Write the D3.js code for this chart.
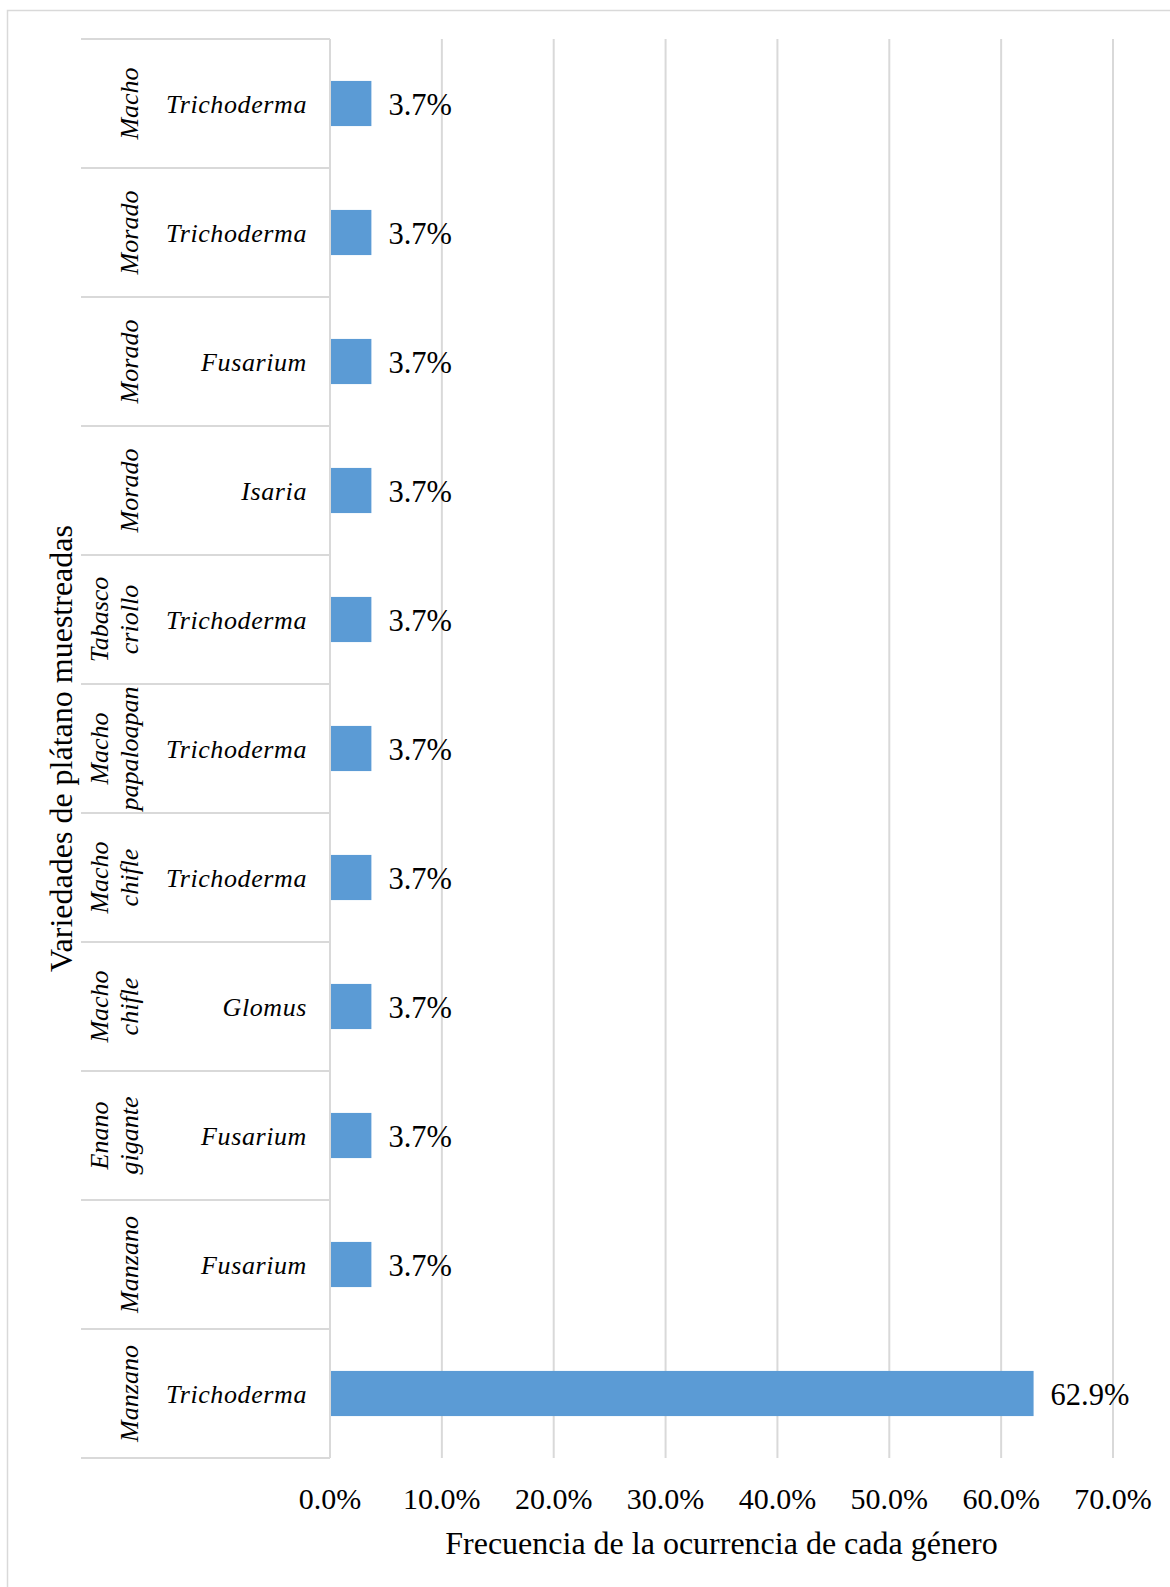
<!DOCTYPE html>
<html>
<head>
<meta charset="utf-8">
<script src="https://cdn.jsdelivr.net/npm/d3@7"></script>
<style>
  body { margin: 0; background: #fff; }
  svg text { font-family: "Liberation Serif", "Times New Roman", serif; fill: #000; }
</style>
</head>
<body>
<div id="chart"></div>
<script>
// Chart data (top to bottom as drawn)
// ==============================
var varieties = ["Macho", "Morado", "Morado", "Morado", "Tabasco criollo", "Macho papaloapan",
  "Macho chifle", "Macho chifle", "Enano gigante", "Manzano", "Manzano"];
var genera = ["Trichoderma", "Trichoderma", "Fusarium", "Isaria", "Trichoderma", "Trichoderma",
  "Trichoderma", "Glomus", "Fusarium", "Fusarium", "Trichoderma"];
var frequencies = [3.7, 3.7, 3.7, 3.7, 3.7, 3.7, 3.7, 3.7, 3.7, 3.7, 62.9];
var xTicks = [0, 10, 20, 30, 40, 50, 60, 70];

var svgWidth = 1170;
var svgHeight = 1587;

var margin = { top: 39, right: 57, bottom: 129, left: 330 };
var width = svgWidth - margin.left - margin.right;
var height = svgHeight - margin.top - margin.bottom;

var gridColor = "#d9d9d9";

var svg = d3.select("#chart")
  .append("svg")
  .attr("width", svgWidth)
  .attr("height", svgHeight);

// Outer border of the chart area
svg.append("rect")
  .attr("x", 7.5)
  .attr("y", 10.5)
  .attr("width", svgWidth)
  .attr("height", svgHeight)
  .attr("fill", "none")
  .attr("stroke", gridColor)
  .attr("stroke-width", 1.5);

var chartGroup = svg.append("g")
  .attr("transform", `translate(${margin.left}, ${margin.top})`);

var rows = frequencies.map((v, i) => ({ idx: i, variety: varieties[i], genus: genera[i], value: v }));

// Scales
// ==============================
var xScale = d3.scaleLinear()
  .domain([0, 70])
  .range([0, width]);

var yScale = d3.scaleBand()
  .domain(d3.range(rows.length))
  .range([0, height])
  .paddingInner(0.65)
  .paddingOuter(0.325);

var bandStep = height / rows.length;

// Gridlines
chartGroup.selectAll(".grid")
  .data(xTicks)
  .enter()
  .append("line")
  .attr("x1", d => xScale(d))
  .attr("x2", d => xScale(d))
  .attr("y1", 0)
  .attr("y2", height)
  .attr("stroke", gridColor)
  .attr("stroke-width", 2);

// Category separators (two-level axis)
chartGroup.selectAll(".sep")
  .data(d3.range(rows.length + 1))
  .enter()
  .append("line")
  .attr("x1", 81 - margin.left)
  .attr("x2", 0)
  .attr("y1", d => d * bandStep)
  .attr("y2", d => d * bandStep)
  .attr("stroke", gridColor)
  .attr("stroke-width", 2);

// Bars
chartGroup.selectAll(".bar")
  .data(rows)
  .enter()
  .append("rect")
  .attr("x", xScale(0) + 1)
  .attr("y", d => yScale(d.idx))
  .attr("width", d => xScale(d.value) - xScale(0) - 1)
  .attr("height", yScale.bandwidth())
  .attr("fill", "#5b9bd5");

// Value labels
chartGroup.selectAll(".val")
  .data(rows)
  .enter()
  .append("text")
  .attr("x", d => xScale(d.value) + 17)
  .attr("y", d => yScale(d.idx) + yScale.bandwidth() / 2 + 11)
  .style("font-size", "30.5px")
  .text(d => d.value.toFixed(1) + "%");

// Inner category labels (genus)
chartGroup.selectAll(".genus")
  .data(rows)
  .enter()
  .append("text")
  .attr("x", -23)
  .attr("y", d => yScale(d.idx) + yScale.bandwidth() / 2 + 9)
  .attr("text-anchor", "end")
  .style("font-size", "26px")
  .style("font-style", "italic")
  .style("letter-spacing", "0.6px")
  .text(d => d.genus);

// Outer category labels (variety), rotated
rows.forEach(function(d) {
  var words = d.variety.split(" ");
  var cy = yScale(d.idx) + yScale.bandwidth() / 2;
  words.forEach(function(w, j) {
    var bx = 138 - margin.left - (words.length - 1 - j) * 30;
    chartGroup.append("text")
      .attr("transform", `translate(${bx}, ${cy}) rotate(-90)`)
      .attr("text-anchor", "middle")
      .style("font-size", "26px")
      .style("font-style", "italic")
      .text(w);
  });
});

// X axis tick labels
chartGroup.selectAll(".tick")
  .data(xTicks)
  .enter()
  .append("text")
  .attr("x", d => xScale(d))
  .attr("y", height + 51)
  .attr("text-anchor", "middle")
  .style("font-size", "30px")
  .text(d => d.toFixed(1) + "%");

// Axis titles
chartGroup.append("text")
  .attr("x", width / 2)
  .attr("y", height + 96)
  .attr("text-anchor", "middle")
  .style("font-size", "32px")
  .text("Frecuencia de la ocurrencia de cada género");

chartGroup.append("text")
  .attr("transform", `translate(${72 - margin.left}, ${height / 2}) rotate(-90)`)
  .attr("text-anchor", "middle")
  .style("font-size", "32px")
  .text("Variedades de plátano muestreadas");
</script>
</body>
</html>
